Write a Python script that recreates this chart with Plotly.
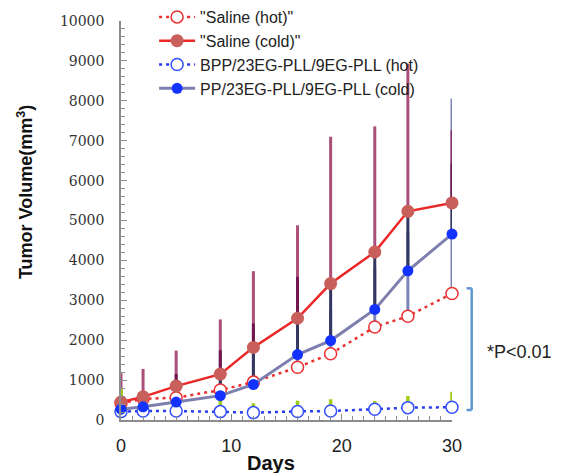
import plotly.graph_objects as go

days = [0, 2, 5, 9, 12, 16, 19, 23, 26, 30]

saline_hot = [420, 530, 560, 750, 950, 1320, 1660, 2330, 2600, 3170]
saline_hot_err = [80, 150, 400, 500, 700, 900, 1100, 1500, 2100, 4890]

saline_cold = [450, 580, 850, 1150, 1820, 2550, 3420, 4210, 5230, 5440]
saline_cold_err = [720, 700, 890, 1370, 1910, 2330, 3680, 3150, 3700, 1820]

bpp_hot = [210, 225, 225, 210, 185, 215, 225, 270, 310, 320]
bpp_hot_err = [560, 200, 280, 290, 235, 270, 295, 205, 290, 390]

pp_cold = [270, 330, 450, 610, 890, 1640, 1990, 2770, 3740, 4660]
pp_cold_err = [230, 370, 700, 1140, 1530, 1950, 1360, 1380, 1410, 1770]

names = ['"Saline (hot)"', '"Saline (cold)"',
         'BPP/23EG-PLL/9EG-PLL (hot)', 'PP/23EG-PLL/9EG-PLL (cold)']

SANS = "Liberation Sans, Arial, sans-serif"
SERIF = "DejaVu Serif, serif"

fig = go.Figure()


def err_trace(y, err, color, thickness=3):
    return go.Scatter(
        x=days, y=y, mode="markers",
        marker=dict(size=1, color="rgba(0,0,0,0)"),
        error_y=dict(type="data", symmetric=False, array=err,
                     arrayminus=[0] * len(err), width=0,
                     thickness=thickness, color=color),
        showlegend=False, hoverinfo="skip", cliponaxis=False)


# error bars (drawn beneath all lines / markers)
fig.add_trace(err_trace(saline_hot, saline_hot_err, "rgb(125,130,185)"))
fig.add_trace(err_trace(pp_cold, pp_cold_err, "rgb(50,55,95)"))
fig.add_trace(err_trace(saline_cold, saline_cold_err, "rgba(140,10,70,0.72)"))
fig.add_trace(err_trace(bpp_hot, bpp_hot_err, "rgb(160,205,20)", 3.5))

# series
fig.add_trace(go.Scatter(
    x=days, y=saline_hot, name=names[0], legendgroup="a", mode="lines+markers",
    line=dict(color="rgb(235,50,50)", width=2.5, dash="3px,4px"),
    marker=dict(symbol="circle", size=12, color="white",
                line=dict(color="rgb(235,50,50)", width=1.5)),
    cliponaxis=False))
fig.add_trace(go.Scatter(
    x=days, y=saline_cold, name=names[1], legendgroup="b", mode="lines+markers",
    line=dict(color="rgb(235,40,40)", width=2.5),
    marker=dict(symbol="circle", size=13, color="rgb(200,95,90)",
                line=dict(width=0)),
    cliponaxis=False))
fig.add_trace(go.Scatter(
    x=days, y=bpp_hot, name=names[2], legendgroup="c", mode="lines+markers",
    line=dict(color="rgb(40,60,240)", width=2.5, dash="3px,4px"),
    marker=dict(symbol="circle", size=12, color="white",
                line=dict(color="rgb(50,80,255)", width=1.5)),
    cliponaxis=False))
fig.add_trace(go.Scatter(
    x=days, y=pp_cold, name=names[3], legendgroup="d", mode="lines+markers",
    line=dict(color="rgb(125,128,175)", width=3),
    marker=dict(symbol="circle", size=11, color="rgb(20,50,255)",
                line=dict(width=0)),
    cliponaxis=False))

axis_col = "rgb(140,140,140)"

fig.update_layout(
    width=564, height=473,
    margin=dict(l=121, r=112, t=21, b=53, autoexpand=False),
    paper_bgcolor="white", plot_bgcolor="white",
    font=dict(family=SANS, color="#222"),
    showlegend=True,
    legend=dict(x=0.1, y=1.0, yref="container", xanchor="left", yanchor="top",
                bgcolor="rgba(0,0,0,0)", font=dict(family=SANS, size=16, color="#222"),
                tracegroupgap=2, traceorder="normal", itemwidth=36),
    xaxis=dict(range=[0, 30], tickmode="array", tickvals=[0, 10, 20, 30],
               ticktext=["0", "10", "20", "30"],
               showline=True, linecolor=axis_col, linewidth=1.5,
               showgrid=False, zeroline=False,
               ticks="inside", ticklen=6, tickcolor=axis_col, tickwidth=1,
               minor=dict(dtick=1, ticks="inside", ticklen=4, tickcolor=axis_col),
               tickfont=dict(family=SANS, size=18, color="#222"),
               ticklabelstandoff=9),
    yaxis=dict(range=[0, 10000], dtick=1000, tickformat="d",
               showline=True, linecolor=axis_col, linewidth=1.5,
               showgrid=False, zeroline=False,
               ticks="inside", ticklen=6, tickcolor=axis_col, tickwidth=1,
               minor=dict(dtick=200, ticks="inside", ticklen=4, tickcolor=axis_col),
               tickfont=dict(family=SERIF, size=14, color="#333"),
               ticklabelstandoff=12),
)

# bracket linking the two hot groups at the last time point
br_top = saline_hot[-1] + 130
br_bot = bpp_hot[-1] - 70
br_col = "rgb(95,150,210)"
for (x0, y0, x1, y1) in [(1.0595, br_bot, 1.0595, br_top),
                         (1.044, br_top, 1.0595, br_top),
                         (1.044, br_bot, 1.0595, br_bot)]:
    fig.add_shape(type="line", xref="paper", yref="y", x0=x0, y0=y0, x1=x1, y1=y1,
                  line=dict(color=br_col, width=2.5))

fig.add_annotation(xref="paper", yref="y", x=1.0996, y=1710, xanchor="left",
                   yanchor="middle", text="*P<0.01", showarrow=False,
                   font=dict(family=SANS, size=18, color="#222"))

fig.add_annotation(xref="paper", yref="paper", x=-0.289, y=0.572,
                   xanchor="center", yanchor="middle", textangle=-90,
                   text="<b>Tumor Volume(mm<sup>3</sup>)</b>", showarrow=False,
                   font=dict(family=SANS, size=18, color="#111"))

fig.add_annotation(xref="paper", yref="paper", x=0.4537, y=-0.0751,
                   xanchor="center", yanchor="top",
                   text="<b>Days</b>", showarrow=False,
                   font=dict(family=SANS, size=20, color="#111"))

fig.write_html("out.html")
